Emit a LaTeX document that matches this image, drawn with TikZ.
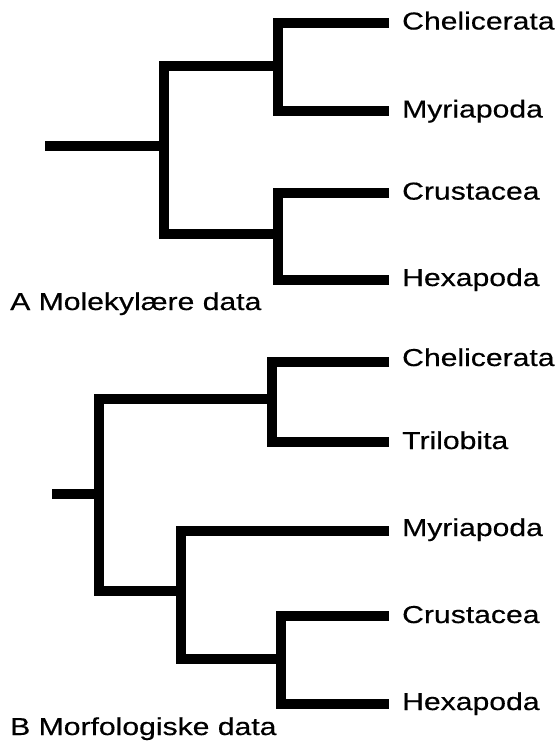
\documentclass[tikz,border=0pt]{standalone}
\usepackage{fontspec}
\setmainfont[FakeBold=0.4]{Liberation Sans}
\begin{document}
\begin{tikzpicture}[x=1pt,y=-1pt,
  branch/.style={line width=10pt,line cap=butt,line join=miter,draw=black},
  taxon/.style={anchor=base west,inner sep=0pt,font=\fontsize{24.5}{29}\selectfont},
  caption/.style={anchor=base west,inner sep=0pt,font=\fontsize{24.5}{29}\selectfont}]
\newcommand{\wide}[1]{\scalebox{1.23}[1]{#1}}
\useasboundingbox[fill=white] (0,0) rectangle (558,742);

% ---------- A: molecular tree ----------
\coordinate (rootA) at (45,146);
\coordinate (jA)  at (164,146);
\coordinate (jA1) at (278,65.5);
\coordinate (jA2) at (278,234);
\coordinate (tCheA) at (389,23);
\coordinate (tMyrA) at (389,110.5);
\coordinate (tCruA) at (389,192.6);
\coordinate (tHexA) at (389,280);

\draw[branch] (tCheA) -| (jA1) |- (tMyrA);
\draw[branch] (tCruA) -| (jA2) |- (tHexA);
\draw[branch] (jA1) -| (jA) |- (jA2);
\draw[branch] (rootA) -- (jA);

\node[taxon] (lCheA) at (402,29.5) {\wide{Chelicerata}};
\node[taxon] (lMyrA) at (402,117.5) {\wide{Myriapoda}};
\node[taxon] (lCruA) at (402,199.6) {\wide{Crustacea}};
\node[taxon] (lHexA) at (402,286) {\wide{Hexapoda}};
\node[caption] (capA) at (10,310) {\wide{A Molekylære data}};

% ---------- B: morphological tree ----------
\coordinate (rootB) at (52,494);
\coordinate (jB)  at (98.5,494);
\coordinate (jB1) at (272,398.7);
\coordinate (jB2) at (180.5,591);
\coordinate (jB3) at (280.5,659);
\coordinate (tCheB) at (389,362);
\coordinate (tTriB) at (389,442);
\coordinate (tMyrB) at (389,531);
\coordinate (tCruB) at (389,616);
\coordinate (tHexB) at (389,704);

\draw[branch] (tCheB) -| (jB1) |- (tTriB);
\draw[branch] (tCruB) -| (jB3) |- (tHexB);
\draw[branch] (tMyrB) -| (jB2) |- (jB3);
\draw[branch] (jB1) -| (jB) |- (jB2);
\draw[branch] (rootB) -- (jB);

\node[taxon] (lCheB) at (402,366) {\wide{Chelicerata}};
\node[taxon] (lTriB) at (402,449) {\wide{Trilobita}};
\node[taxon] (lMyrB) at (402,536) {\wide{Myriapoda}};
\node[taxon] (lCruB) at (402,623) {\wide{Crustacea}};
\node[taxon] (lHexB) at (402,710) {\wide{Hexapoda}};
\node[caption] (capB) at (10,735) {\wide{B Morfologiske data}};
\end{tikzpicture}
\end{document}
